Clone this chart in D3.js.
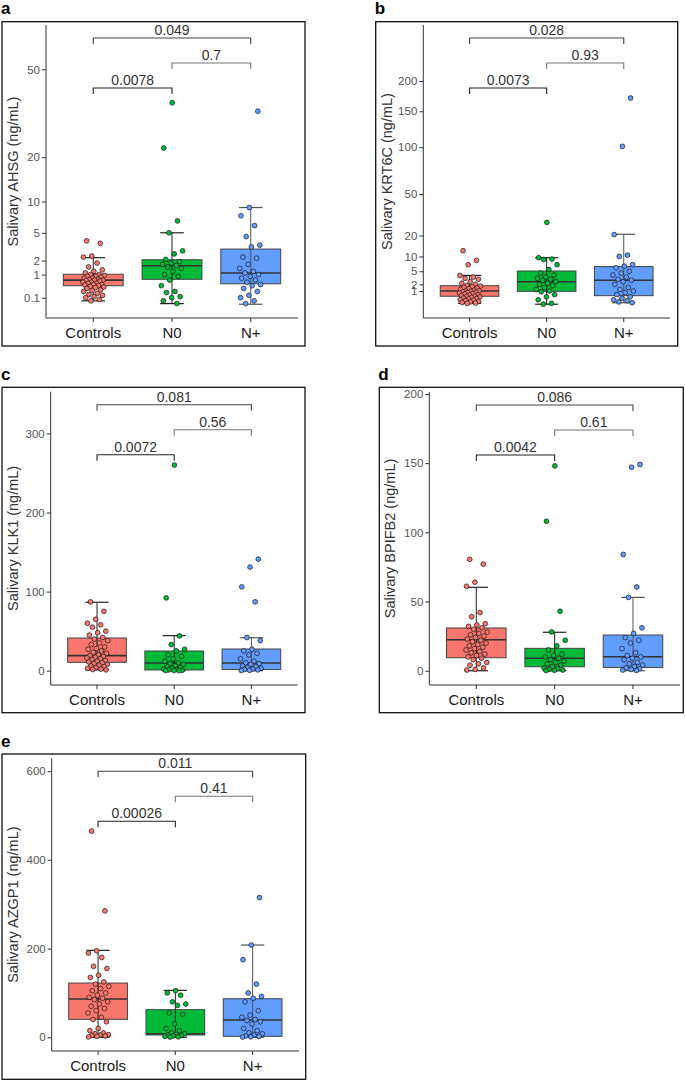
<!DOCTYPE html>
<html lang="en">
<head>
<meta charset="utf-8">
<title>Salivary biomarkers</title>
<script src="https://cdn.jsdelivr.net/npm/d3@7"></script>
<style>
body { margin: 0; background: #fff; }
svg text { font-family: "Liberation Sans", Arial, sans-serif; }
.ytick text { fill: #555; font-size: 11.5px; }
.ytick line, .ytick path { stroke: #333; }
.xlab { fill: #1a1a1a; font-size: 15px; }
.ytitle { fill: #333; font-size: 14.5px; }
.plab { fill: #333; font-size: 14px; }
.letter { fill: #000; font-size: 17px; font-weight: bold; }
</style>
</head>
<body>
<div id="chart"></div>
<script>
const groups = ["Controls", "N0", "N+"];
const colors = ["#F8766D", "#00BA38", "#619CFF"];

// a: AHSG
const ahsgControls = [4.0, 3.7, 2.4, 2.3, 1.8, 1.5, 1.3, 1.2, 1.1, 1.0, 1.0, 0.95, 0.9, 0.9, 0.85, 0.8, 0.8, 0.75, 0.72, 0.7, 0.7, 0.68, 0.65, 0.6, 0.6, 0.55, 0.55, 0.5, 0.5, 0.48, 0.45, 0.42, 0.4, 0.38, 0.35, 0.3, 0.28, 0.25, 0.2, 0.17, 0.15, 0.12, 0.1, 0.07, 0.05];
const ahsgN0 = [37, 22.5, 6.7, 5.0, 2.9, 2.6, 2.1, 1.9, 1.8, 1.7, 1.6, 1.5, 1.4, 1.2, 1.0, 0.9, 0.7, 0.45, 0.25, 0.22, 0.12, 0.1, 0.05, 0.02];
const ahsgNplus = [34, 8.9, 7.5, 6.0, 4.5, 3.5, 3.3, 2.3, 2.2, 1.7, 1.4, 1.2, 1.1, 1.0, 0.9, 0.8, 0.7, 0.6, 0.5, 0.45, 0.35, 0.25, 0.15, 0.1, 0.05, 0.02];
const ahsgBoxes = [[0.05, 0.45, 0.70, 1.02, 2.25], [0.02, 0.74, 1.59, 2.07, 5.0], [0.015, 0.53, 1.10, 3.08, 8.9]];
const ahsgTicks = [0.1, 1, 2, 5, 10, 20, 50];
const ahsgP = ["0.0078", "0.7", "0.049"];

// b: KRT6C
const krtControls = [12.4, 8.5, 7.0, 3.9, 3.5, 3.2, 3.0, 2.5, 2.2, 2.0, 1.8, 1.7, 1.6, 1.5, 1.4, 1.3, 1.2, 1.1, 1.0, 1.0, 0.95, 0.9, 0.85, 0.8, 0.75, 0.7, 0.65, 0.6, 0.55, 0.5, 0.45, 0.42, 0.4, 0.35, 0.3, 0.28, 0.25, 0.2, 0.18, 0.15, 0.12, 0.1, 0.08, 0.06, 0.05];
const krtN0 = [28, 9.5, 9.0, 8.8, 7.0, 5.5, 4.5, 4.0, 3.5, 3.2, 3.0, 2.8, 2.5, 2.2, 2.0, 1.8, 1.5, 1.2, 1.0, 0.9, 0.6, 0.4, 0.2, 0.05, 0.03];
const krtNplus = [171, 101, 20.5, 10.5, 10.0, 7.0, 6.5, 6.0, 5.0, 4.5, 4.0, 3.5, 3.0, 2.8, 2.5, 2.0, 1.5, 1.2, 1.0, 0.8, 0.6, 0.4, 0.3, 0.2, 0.15, 0.1, 0.07];
const krtBoxes = [[0.05, 0.45, 1.0, 1.77, 3.9], [0.03, 0.96, 2.5, 5.07, 9.5], [0.07, 0.5, 2.8, 6.4, 20.7]];
const krtTicks = [1, 2, 5, 10, 20, 50, 100, 150, 200];
const krtP = ["0.0073", "0.93", "0.028"];

// c: KLK1
const klkControls = [87, 75, 65, 60, 58, 55, 50, 48, 45, 42, 40, 38, 35, 33, 30, 28, 27, 25, 23, 22, 20, 19, 18, 17, 16, 15, 14, 13, 12, 11, 10, 9, 8, 7, 6, 5, 4, 3, 2, 1.5, 1];
const klkN0 = [260, 92, 44, 33, 27, 25, 20, 18, 15, 12, 10, 9, 8, 6, 5, 4, 3, 2, 1.5, 1, 0.5, 0.3, 0.2, 0.1];
const klkNplus = [141, 131, 106, 87, 42, 38, 27, 25, 22, 20, 15, 12, 10, 9, 8, 6, 5, 4, 3, 2, 1.5, 1, 0.5, 0.3];
const klkBoxes = [[1, 10.6, 19, 41.3, 86.5], [0, 0.9, 9.7, 24.9, 44.3], [0, 1.5, 9.7, 27.4, 41.7]];
const klkTicks = [0, 100, 200, 300];
const klkP = ["0.0072", "0.56", "0.081"];

// d: BPIFB2
const bpiControls = [80.5, 77, 64, 61, 42, 39, 34, 33, 32, 31, 30, 28, 27, 26, 25, 24, 23, 22, 21, 20, 19, 18, 17, 16, 15, 14, 13, 12, 11, 10, 9, 8, 6, 5, 4, 2, 1, 0.5];
const bpiN0 = [148, 108, 43, 28, 22, 18, 15, 12, 11, 10, 9, 8, 7, 6, 5, 4, 3, 2, 1.5, 1, 0.5, 0.3, 0.1];
const bpiNplus = [149, 147, 84, 60.5, 53, 31, 27, 24, 22, 20, 16, 13, 11, 10, 9, 8, 6, 5, 4, 3, 2, 1.5, 1, 0.5, 0.2];
const bpiBoxes = [[0, 9.4, 22.4, 30.9, 60.3], [0, 2.9, 9, 16.2, 27.8], [0, 2.4, 10.1, 25.8, 53]];
const bpiTicks = [0, 50, 100, 150, 200];
const bpiP = ["0.0042", "0.61", "0.086"];

// e: AZGP1
const azgControls = [465, 285, 195, 190, 180, 160, 155, 140, 135, 125, 120, 115, 110, 105, 100, 95, 90, 88, 85, 80, 75, 70, 65, 60, 55, 45, 40, 35, 20, 15, 10, 8, 6, 5, 4, 3, 2, 1];
const azgN0 = [105, 100, 95, 80, 75, 72, 55, 52, 30, 20, 15, 10, 8, 6, 5, 4, 3, 2, 1, 0.5];
const azgNplus = [315, 208, 175, 120, 100, 92, 88, 80, 60, 50, 45, 40, 38, 35, 30, 20, 15, 10, 8, 5, 3, 2, 1, 0.5];
const azgBoxes = [[0, 40.5, 86.3, 122.3, 196], [0, 5.2, 8, 62.3, 105.8], [0, 2.2, 39, 87, 208]];
const azgTicks = [0, 200, 400, 600];
const azgP = ["0.00026", "0.41", "0.011"];

const panels = [
  {letter: "a", title: "Salivary AHSG (ng/mL)", pts: [ahsgControls, ahsgN0, ahsgNplus], boxes: ahsgBoxes, ticks: ahsgTicks, p: ahsgP,
   scale: d3.scaleSqrt().domain([-0.0807, 70.26]), fmt: d3.format("~g"),
   frame: [2, 305, 21.7, 346], plot: [46, 298, 25, 318]},
  {letter: "b", title: "Salivary KRT6C (ng/mL)", pts: [krtControls, krtN0, krtNplus], boxes: krtBoxes, ticks: krtTicks, p: krtP,
   scale: d3.scaleSqrt().domain([-0.476, 311.4]), fmt: d3.format("~g"),
   frame: [375.7, 677.7, 21.7, 346], plot: [423.3, 670, 25, 318]},
  {letter: "c", title: "Salivary KLK1 (ng/mL)", pts: [klkControls, klkN0, klkNplus], boxes: klkBoxes, ticks: klkTicks, p: klkP,
   scale: d3.scaleLinear().domain([-18.1, 352.7]), fmt: d3.format("d"),
   frame: [2, 305, 387.3, 712.7], plot: [50.7, 297.7, 391.7, 685]},
  {letter: "d", title: "Salivary BPIFB2 (ng/mL)", pts: [bpiControls, bpiN0, bpiNplus], boxes: bpiBoxes, ticks: bpiTicks, p: bpiP,
   scale: d3.scaleLinear().domain([-10.3, 201.4]), fmt: d3.format("d"),
   frame: [379.3, 683.3, 387.3, 712.7], plot: [429.3, 680, 392, 685]},
  {letter: "e", title: "Salivary AZGP1 (ng/mL)", pts: [azgControls, azgN0, azgNplus], boxes: azgBoxes, ticks: azgTicks, p: azgP,
   scale: d3.scaleLinear().domain([-30.9, 629]), fmt: d3.format("d"),
   frame: [2, 305.7, 754, 1079.3], plot: [51.7, 299, 758.3, 1051]}
];

const svg = d3.select("#chart").append("svg")
  .attr("width", 685).attr("height", 1081);

function drawPanel(P) {
  const [fx0, fx1, fy0, fy1] = P.frame;
  const [left, right, top, bottom] = P.plot;
  const g = svg.append("g");

  const x = d3.scalePoint().domain(groups).range([left, right]).padding(0.6);
  const step = x.step();
  const y = P.scale.range([bottom, top]);
  const boxW = step * 0.76, capW = step * 0.3, jw = step * 0.14;

  g.append("text").attr("class", "letter").attr("x", fx0 - 1).attr("y", fy0 - 7.5).text(P.letter);
  g.append("rect").attr("x", fx0).attr("y", fy0).attr("width", fx1 - fx0).attr("height", fy1 - fy0)
    .attr("fill", "none").attr("stroke", "#111").attr("stroke-width", 1.3);

  // y axis
  g.append("g").attr("class", "ytick").attr("transform", `translate(${left},0)`)
    .call(d3.axisLeft(y).tickValues(P.ticks).tickFormat(P.fmt).tickSize(4).tickPadding(2).tickSizeOuter(0))
    .call(a => a.select(".domain").attr("d", `M0,${top}V${bottom}`));

  // x axis
  g.append("line").attr("x1", left).attr("x2", right).attr("y1", bottom).attr("y2", bottom).attr("stroke", "#333");
  groups.forEach(k => {
    g.append("line").attr("x1", x(k)).attr("x2", x(k)).attr("y1", bottom).attr("y2", bottom + 4).attr("stroke", "#333");
    g.append("text").attr("class", "xlab").attr("x", x(k)).attr("y", bottom + 20)
      .attr("text-anchor", "middle").text(k);
  });

  g.append("text").attr("class", "ytitle")
    .attr("transform", `translate(${fx0 + 11},${(top + bottom) / 2}) rotate(-90)`)
    .attr("text-anchor", "middle").attr("dy", "0.35em").text(P.title);

  // boxes
  P.boxes.forEach((b, i) => {
    const cx = x(groups[i]);
    const [lo, q1, med, q3, hi] = b;
    g.append("rect").attr("x", cx - boxW / 2).attr("width", boxW)
      .attr("y", y(q3)).attr("height", y(q1) - y(q3))
      .attr("fill", colors[i]).attr("stroke", "#444").attr("stroke-width", 1);
    g.append("line").attr("x1", cx - boxW / 2).attr("x2", cx + boxW / 2)
      .attr("y1", y(med)).attr("y2", y(med)).attr("stroke", "#333").attr("stroke-width", 1.6);
    const wc = i === 2 ? "#555" : "#222";
    g.append("line").attr("x1", cx).attr("x2", cx).attr("y1", y(lo)).attr("y2", y(hi)).attr("stroke", wc);
    [lo, hi].forEach(v => g.append("line").attr("x1", cx - capW / 2).attr("x2", cx + capW / 2)
      .attr("y1", y(v)).attr("y2", y(v)).attr("stroke", wc).attr("stroke-width", 1.2));
  });

  // jittered points (deterministic spread)
  P.pts.forEach((arr, i) => {
    const cx = x(groups[i]);
    g.append("g").selectAll("circle").data(arr).join("circle")
      .attr("cx", (d, j) => cx + (((j * 0.6180339887 + 0.31 * i + 0.2) % 1) - 0.5) * 2 * jw)
      .attr("cy", d => y(d))
      .attr("r", 2.4)
      .attr("fill", colors[i]).attr("stroke", "#1a1a1a").attr("stroke-width", 0.7);
  });

  // significance brackets: C-N0 (lowest), N0-N+ (middle), C-N+ (top)
  const pairs = [[0, 1], [1, 2], [0, 2]];
  const levels = [63, 38, 13];
  const bcol = ["#222", "#777", "#444"];
  pairs.forEach((pr, i) => {
    const by = top + levels[i];
    const xa = x(groups[pr[0]]), xb = x(groups[pr[1]]);
    g.append("path").attr("d", `M${xa},${by + 6}V${by}H${xb}V${by + 6}`)
      .attr("fill", "none").attr("stroke", bcol[i]).attr("stroke-width", 1.1);
    g.append("text").attr("class", "plab").attr("x", (xa + xb) / 2).attr("y", by - 3)
      .attr("text-anchor", "middle").text(P.p[i]);
  });
}

panels.forEach(drawPanel);
</script>
</body>
</html>
